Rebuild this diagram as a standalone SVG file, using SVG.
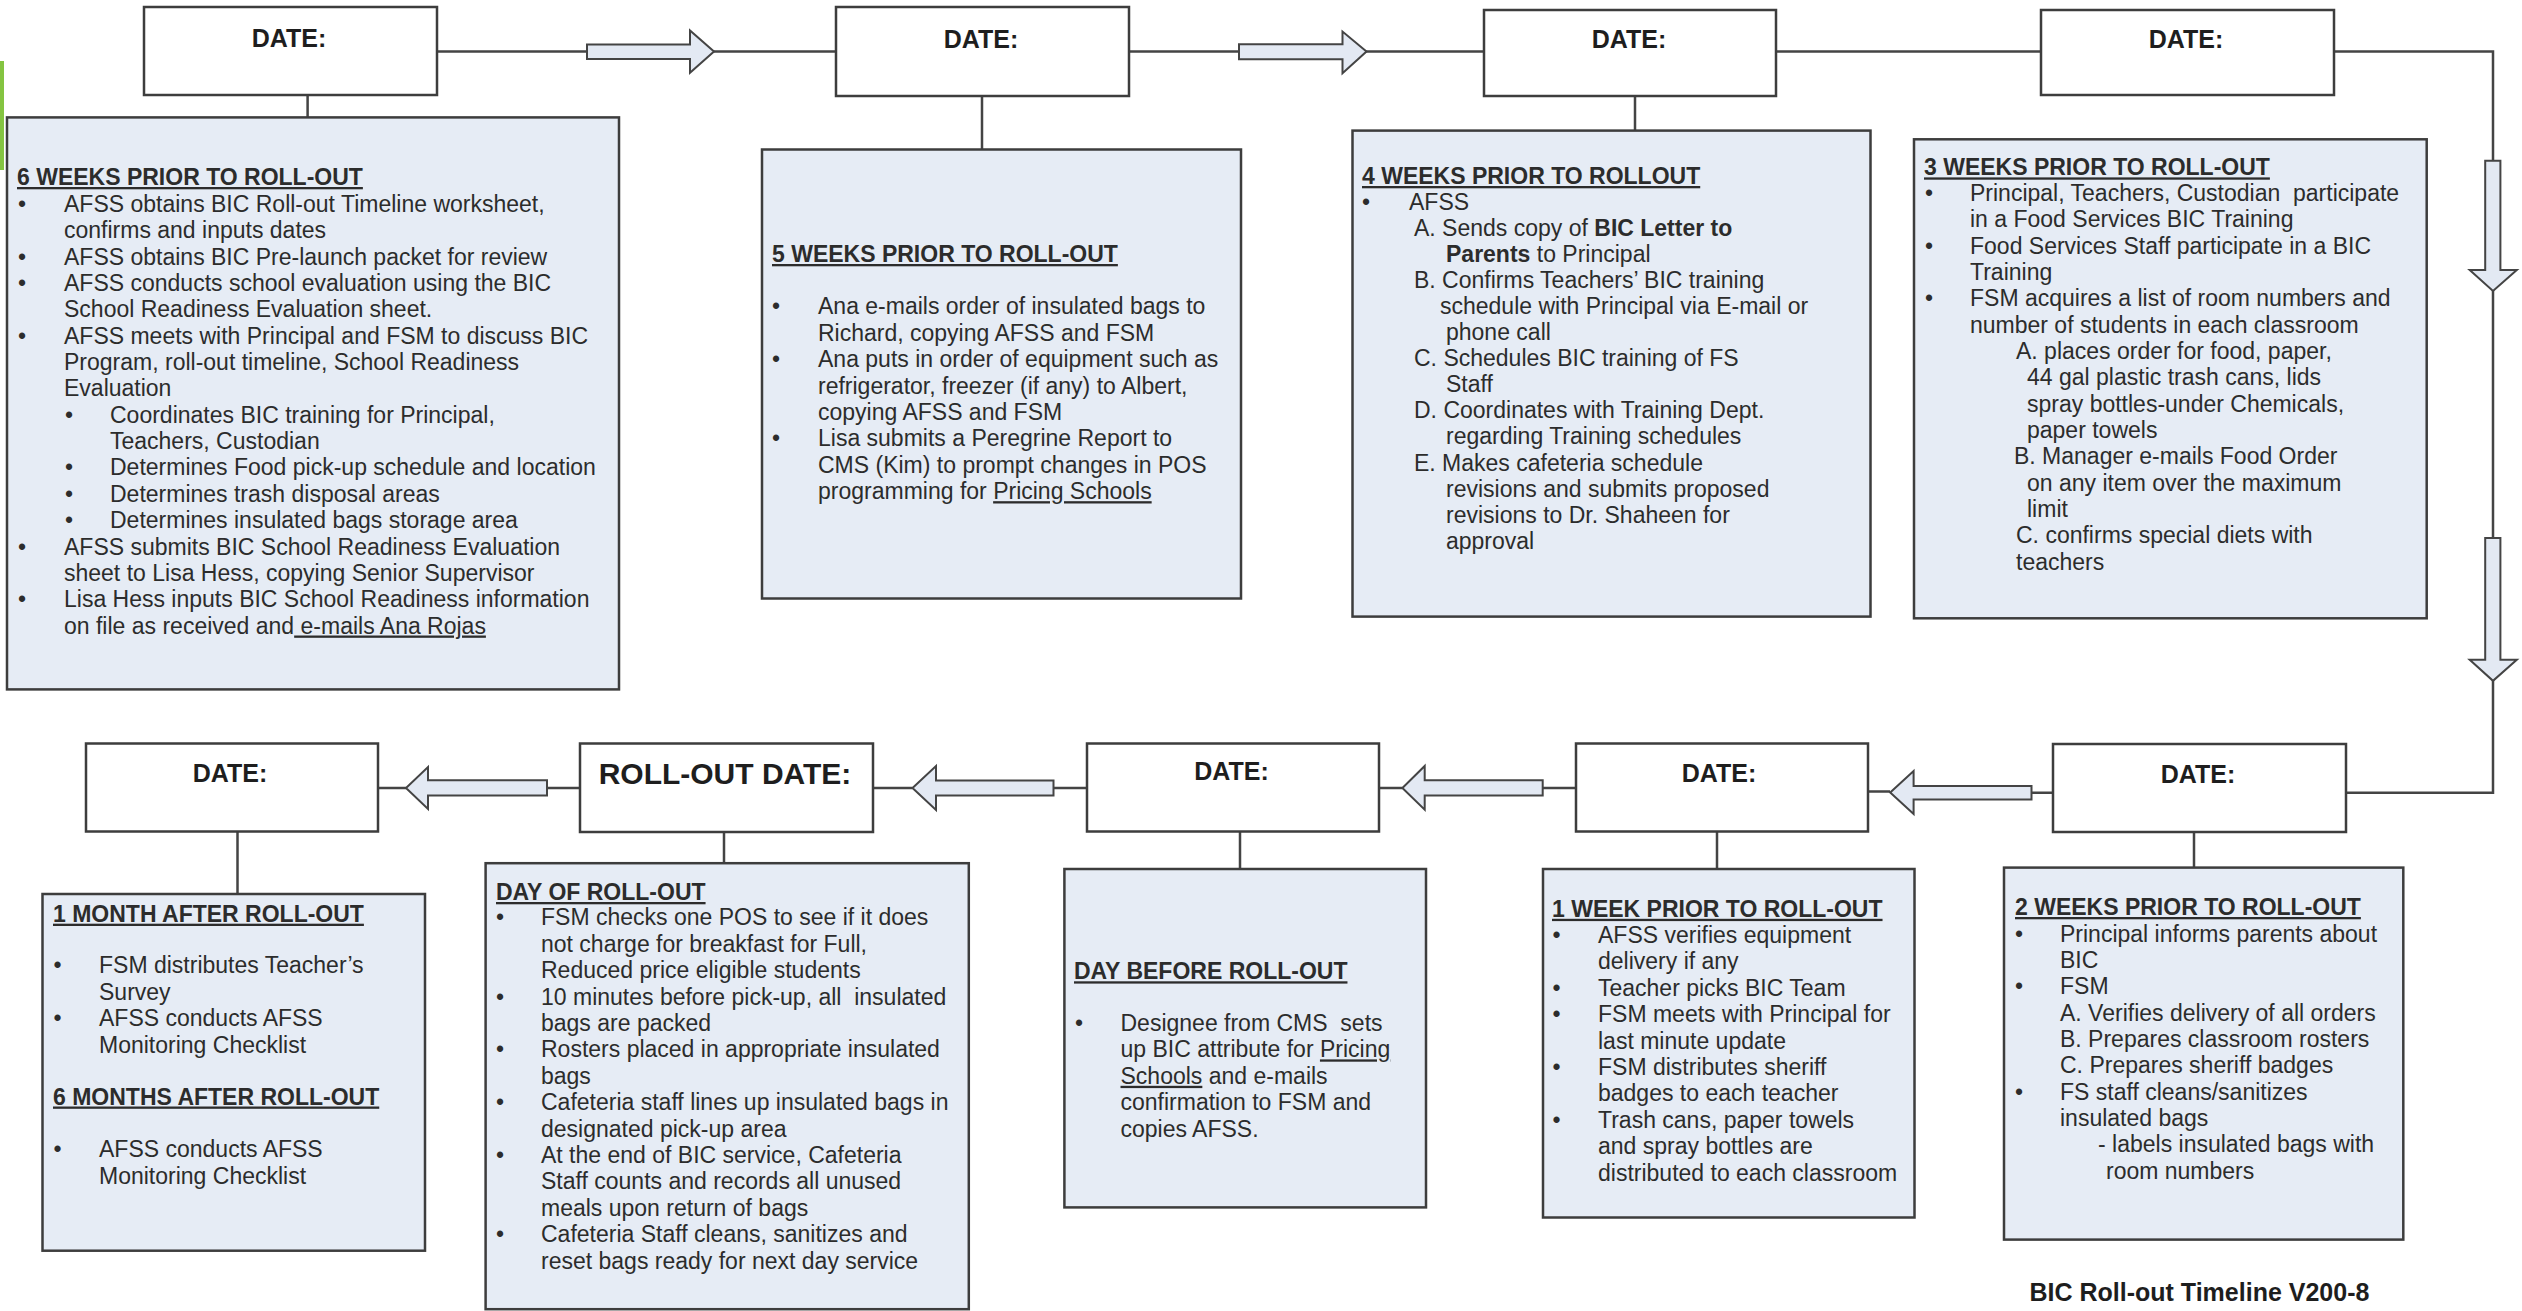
<svg xmlns="http://www.w3.org/2000/svg" width="2522" height="1311" viewBox="0 0 2522 1311">
<style>
.bg{fill:#ffffff}
.box{fill:#e6ecf5;stroke:#3d3d3d;stroke-width:2.5}
.date{fill:#ffffff;stroke:#3d3d3d;stroke-width:2.5}
text{font-family:"Liberation Sans",Arial,sans-serif;font-size:23px;fill:#2c2c2c}
.h{font-weight:bold;text-decoration:underline}
.b{font-weight:bold}
.u{text-decoration:underline}
.dt{font-weight:bold;font-size:25px;text-anchor:middle;fill:#1e1e1e}
.ln{stroke:#444;stroke-width:2.5;fill:none}
.arr{fill:#e3e9f3;stroke:#444;stroke-width:2;stroke-linejoin:miter}
</style>
<rect class="bg" x="0" y="0" width="2522" height="1311"/>
<rect x="0" y="61" width="4" height="109" fill="#84c441"/>

<g id="connectors">
<path class="ln" d="M437,51.5 H587 M714,51.5 H836 M1129,51.5 H1239 M1366,51.5 H1484 M1776,51.5 H2041 M2334,51.5 H2493 V792.7 H2345.6"/>
<path class="ln" d="M307.6,95 V117.4 M982,96 V149.5 M1635,96 V130.6"/>
<path class="ln" d="M2052.8,792.7 H2031.5 M1890,791.5 H1868 M1575.8,788 H1542.7 M1402.4,788 H1378.8 M1086.7,788 H1053.5 M912.5,788 H873 M580,788 H547 M406,788 H378"/>
<path class="ln" d="M237.5,831 V894 M724,832 V863 M1240,831 V869 M1717,831 V869 M2194,832 V867.6"/>
<polygon class="arr" points="587,44.6 690,44.6 690,30.4 714,51.5 690,72.8 690,58.9 587,58.9"/>
<polygon class="arr" points="1239,44.3 1342.5,44.3 1342.5,31.6 1366.5,51.5 1342.5,73.2 1342.5,59.3 1239,59.3"/>
<polygon class="arr" points="2485.2,160.7 2500.4,160.7 2500.4,270 2516.8,270 2493,291 2469.7,270 2485.2,270"/>
<polygon class="arr" points="2485.2,538 2500.4,538 2500.4,659.8 2516.8,659.8 2493,680.8 2469.7,659.8 2485.2,659.8"/>
<polygon class="arr" points="2031.5,786 1913.6,786 1913.6,771 1890.2,792.5 1913.6,814 1913.6,799.5 2031.5,799.5"/>
<polygon class="arr" points="1542.7,780.3 1424.7,780.3 1424.7,766 1402.4,788 1424.7,809.7 1424.7,795.4 1542.7,795.4"/>
<polygon class="arr" points="1053.5,780.5 936,780.5 936,766 912.5,788 936,810 936,795.5 1053.5,795.5"/>
<polygon class="arr" points="547,780.3 428,780.3 428,767 406,788 428,809 428,795.4 547,795.4"/>
</g>

<g id="date1"><rect class="date" x="144" y="7" width="293" height="88"/><text class="dt" x="289" y="47">DATE:</text></g>
<g id="date2"><rect class="date" x="836" y="7" width="293" height="89"/><text class="dt" x="981" y="47.5">DATE:</text></g>
<g id="date3"><rect class="date" x="1484" y="10" width="292" height="86"/><text class="dt" x="1629" y="48">DATE:</text></g>
<g id="date4"><rect class="date" x="2041" y="10" width="293" height="85"/><text class="dt" x="2186" y="48">DATE:</text></g>
<g id="date5"><rect class="date" x="2053" y="744" width="293" height="88"/><text class="dt" x="2198" y="782.5">DATE:</text></g>
<g id="date6"><rect class="date" x="1576" y="743.5" width="292" height="88"/><text class="dt" x="1719" y="782">DATE:</text></g>
<g id="date7"><rect class="date" x="1087" y="743.5" width="292" height="88"/><text class="dt" x="1231.5" y="779.5">DATE:</text></g>
<g id="date8"><rect class="date" x="580" y="743.5" width="293" height="88.5"/><text class="dt" x="725" y="784" style="font-size:30px">ROLL-OUT DATE:</text></g>
<g id="date9"><rect class="date" x="86" y="743.5" width="292" height="88"/><text class="dt" x="230" y="782">DATE:</text></g>

<g id="step1">
<rect class="box" x="7" y="117.4" width="612" height="572"/>
<text class="h" x="17" y="185">6 WEEKS PRIOR TO ROLL-OUT</text>
<text x="18" y="212">•</text><text x="64" y="212">AFSS obtains BIC Roll-out Timeline worksheet,</text>
<text x="64" y="238.4">confirms and inputs dates</text>
<text x="18" y="264.7">•</text><text x="64" y="264.7">AFSS obtains BIC Pre-launch packet for review</text>
<text x="18" y="291">•</text><text x="64" y="291">AFSS conducts school evaluation using the BIC</text>
<text x="64" y="317.4">School Readiness Evaluation sheet.</text>
<text x="18" y="343.8">•</text><text x="64" y="343.8">AFSS meets with Principal and FSM to discuss BIC</text>
<text x="64" y="370">Program, roll-out timeline, School Readiness</text>
<text x="64" y="396.4">Evaluation</text>
<text x="65" y="422.8">•</text><text x="110" y="422.8">Coordinates BIC training for Principal,</text>
<text x="110" y="449">Teachers, Custodian</text>
<text x="65" y="475.4">•</text><text x="110" y="475.4">Determines Food pick-up schedule and location</text>
<text x="65" y="501.8">•</text><text x="110" y="501.8">Determines trash disposal areas</text>
<text x="65" y="528">•</text><text x="110" y="528">Determines insulated bags storage area</text>
<text x="18" y="554.5">•</text><text x="64" y="554.5">AFSS submits BIC School Readiness Evaluation</text>
<text x="64" y="580.8">sheet to Lisa Hess, copying Senior Supervisor</text>
<text x="18" y="607">•</text><text x="64" y="607">Lisa Hess inputs BIC School Readiness information</text>
<text x="64" y="633.5" xml:space="preserve">on file as received and<tspan class="u"> e-mails Ana Rojas</tspan></text>
</g>

<g id="step2">
<rect class="box" x="762" y="149.5" width="479" height="449"/>
<text class="h" x="772" y="262">5 WEEKS PRIOR TO ROLL-OUT</text>
<text x="772" y="314.4">•</text><text x="818" y="314.4">Ana e-mails order of insulated bags to</text>
<text x="818" y="340.8">Richard, copying AFSS and FSM</text>
<text x="772" y="367.2">•</text><text x="818" y="367.2">Ana puts in order of equipment such as</text>
<text x="818" y="393.6">refrigerator, freezer (if any) to Albert,</text>
<text x="818" y="420">copying AFSS and FSM</text>
<text x="772" y="446.4">•</text><text x="818" y="446.4">Lisa submits a Peregrine Report to</text>
<text x="818" y="472.8">CMS (Kim) to prompt changes in POS</text>
<text x="818" y="499.2">programming for <tspan class="u">Pricing Schools</tspan></text>
</g>

<g id="step3">
<rect class="box" x="1352.5" y="130.6" width="518" height="486"/>
<text class="h" x="1362" y="184">4 WEEKS PRIOR TO ROLLOUT</text>
<text x="1362" y="209.5">•</text><text x="1409" y="209.5">AFSS</text>
<text x="1414" y="235.6">A. Sends copy of <tspan class="b">BIC Letter to</tspan></text>
<text x="1446" y="261.7"><tspan class="b">Parents</tspan> to Principal</text>
<text x="1414" y="287.8">B. Confirms Teachers’ BIC training</text>
<text x="1440" y="313.9">schedule with Principal via E-mail or</text>
<text x="1446" y="340">phone call</text>
<text x="1414" y="366.1">C. Schedules BIC training of FS</text>
<text x="1446" y="392.2">Staff</text>
<text x="1414" y="418.3">D. Coordinates with Training Dept.</text>
<text x="1446" y="444.4">regarding Training schedules</text>
<text x="1414" y="470.5">E. Makes cafeteria schedule</text>
<text x="1446" y="496.6">revisions and submits proposed</text>
<text x="1446" y="522.7">revisions to Dr. Shaheen for</text>
<text x="1446" y="548.8">approval</text>
</g>

<g id="step4">
<rect class="box" x="1914" y="139.3" width="512.7" height="479"/>
<text class="h" x="1924" y="175.4">3 WEEKS PRIOR TO ROLL-OUT</text>
<text x="1925" y="201">•</text><text x="1970" y="201" xml:space="preserve">Principal, Teachers, Custodian  participate</text>
<text x="1970" y="227.3">in a Food Services BIC Training</text>
<text x="1925" y="253.6">•</text><text x="1970" y="253.6">Food Services Staff participate in a BIC</text>
<text x="1970" y="280">Training</text>
<text x="1925" y="306.3">•</text><text x="1970" y="306.3">FSM acquires a list of room numbers and</text>
<text x="1970" y="332.6">number of students in each classroom</text>
<text x="2016" y="359">A. places order for food, paper,</text>
<text x="2027" y="385.3">44 gal plastic trash cans, lids</text>
<text x="2027" y="411.6">spray bottles-under Chemicals,</text>
<text x="2027" y="438">paper towels</text>
<text x="2014" y="464.3">B. Manager e-mails Food Order</text>
<text x="2027" y="490.6">on any item over the maximum</text>
<text x="2027" y="517">limit</text>
<text x="2016" y="543.3">C. confirms special diets with</text>
<text x="2016" y="569.6">teachers</text>
</g>

<g id="step5">
<rect class="box" x="2004" y="867.6" width="399.3" height="372"/>
<text class="h" x="2015" y="915">2 WEEKS PRIOR TO ROLL-OUT</text>
<text x="2015" y="941.6">•</text><text x="2060" y="941.6">Principal informs parents about</text>
<text x="2060" y="968">BIC</text>
<text x="2015" y="994.3">•</text><text x="2060" y="994.3">FSM</text>
<text x="2060" y="1020.6">A. Verifies delivery of all orders</text>
<text x="2060" y="1047">B. Prepares classroom rosters</text>
<text x="2060" y="1073.3">C. Prepares sheriff badges</text>
<text x="2015" y="1099.6">•</text><text x="2060" y="1099.6">FS staff cleans/sanitizes</text>
<text x="2060" y="1126">insulated bags</text>
<text x="2098" y="1152.3">- labels insulated bags with</text>
<text x="2106" y="1178.6">room numbers</text>
</g>

<g id="step6">
<rect class="box" x="1543" y="869" width="371.5" height="348.5"/>
<text class="h" x="1552" y="916.8">1 WEEK PRIOR TO ROLL-OUT</text>
<text x="1552.5" y="943">•</text><text x="1598" y="943">AFSS verifies equipment</text>
<text x="1598" y="969.4">delivery if any</text>
<text x="1552.5" y="995.8">•</text><text x="1598" y="995.8">Teacher picks BIC Team</text>
<text x="1552.5" y="1022.2">•</text><text x="1598" y="1022.2">FSM meets with Principal for</text>
<text x="1598" y="1048.6">last minute update</text>
<text x="1552.5" y="1075">•</text><text x="1598" y="1075">FSM distributes sheriff</text>
<text x="1598" y="1101.4">badges to each teacher</text>
<text x="1552.5" y="1127.8">•</text><text x="1598" y="1127.8">Trash cans, paper towels</text>
<text x="1598" y="1154.2">and spray bottles are</text>
<text x="1598" y="1180.6">distributed to each classroom</text>
</g>

<g id="step7">
<rect class="box" x="1064.4" y="869" width="361.6" height="338.4"/>
<text class="h" x="1074" y="979.3">DAY BEFORE ROLL-OUT</text>
<text x="1075" y="1031">•</text><text x="1120.5" y="1031" xml:space="preserve">Designee from CMS  sets</text>
<text x="1120.5" y="1057.4">up BIC attribute for <tspan class="u">Pricing</tspan></text>
<text x="1120.5" y="1083.8"><tspan class="u">Schools</tspan> and e-mails</text>
<text x="1120.5" y="1110.2">confirmation to FSM and</text>
<text x="1120.5" y="1136.6">copies AFSS.</text>
</g>

<g id="step8">
<rect class="box" x="485.6" y="863.2" width="483.2" height="446"/>
<text class="h" x="496" y="900">DAY OF ROLL-OUT</text>
<text x="496" y="925.4">•</text><text x="541" y="925.4">FSM checks one POS to see if it does</text>
<text x="541" y="951.8">not charge for breakfast for Full,</text>
<text x="541" y="978.2">Reduced price eligible students</text>
<text x="496" y="1004.6">•</text><text x="541" y="1004.6" xml:space="preserve">10 minutes before pick-up, all  insulated</text>
<text x="541" y="1031">bags are packed</text>
<text x="496" y="1057.4">•</text><text x="541" y="1057.4">Rosters placed in appropriate insulated</text>
<text x="541" y="1083.8">bags</text>
<text x="496" y="1110.2">•</text><text x="541" y="1110.2">Cafeteria staff lines up insulated bags in</text>
<text x="541" y="1136.6">designated pick-up area</text>
<text x="496" y="1163">•</text><text x="541" y="1163">At the end of BIC service, Cafeteria</text>
<text x="541" y="1189.4">Staff counts and records all unused</text>
<text x="541" y="1215.8">meals upon return of bags</text>
<text x="496" y="1242.2">•</text><text x="541" y="1242.2">Cafeteria Staff cleans, sanitizes and</text>
<text x="541" y="1268.6">reset bags ready for next day service</text>
</g>

<g id="step9">
<rect class="box" x="42.5" y="894" width="382.5" height="356.7"/>
<text class="h" x="53" y="921.7">1 MONTH AFTER ROLL-OUT</text>
<text x="53.5" y="973.3">•</text><text x="99" y="973.3">FSM distributes Teacher’s</text>
<text x="99" y="999.7">Survey</text>
<text x="53.5" y="1026">•</text><text x="99" y="1026">AFSS conducts AFSS</text>
<text x="99" y="1052.5">Monitoring Checklist</text>
<text class="h" x="53" y="1104.5">6 MONTHS AFTER ROLL-OUT</text>
<text x="53.5" y="1157.2">•</text><text x="99" y="1157.2">AFSS conducts AFSS</text>
<text x="99" y="1183.6">Monitoring Checklist</text>
</g>

<g id="footer">
<text class="b" x="2029.5" y="1301" style="font-size:25px;fill:#1e1e1e">BIC Roll-out Timeline V200-8</text>
</g>
</svg>
